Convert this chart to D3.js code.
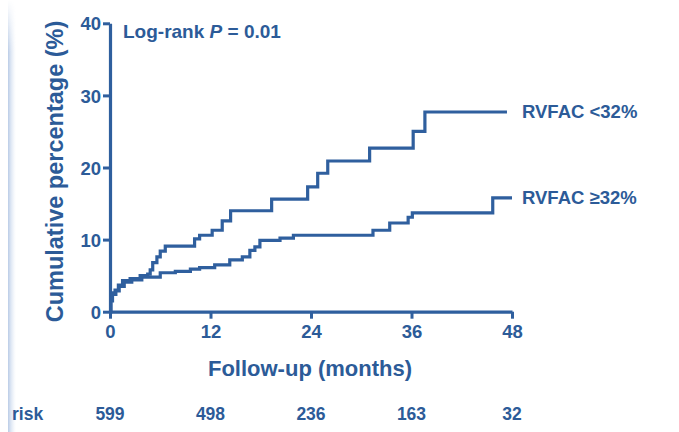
<!DOCTYPE html>
<html>
<head>
<meta charset="utf-8">
<script src="https://cdn.jsdelivr.net/npm/d3@7"></script>
<style>
  html, body { margin: 0; padding: 0; background: #ffffff; }
  svg { display: block; font-family: "Liberation Sans", Arial, sans-serif; font-weight: bold; }
</style>
</head>
<body>
<svg id="chart" width="679" height="432"></svg>
<script>
// Kaplan-Meier style cumulative incidence (%) by follow-up month
const lowFacMonths = [0, 0.1, 0.25, 0.6, 1.0, 1.5, 2.4, 3.6, 4.5, 4.8, 5.1, 5.6, 6.0, 6.6, 10.1, 10.7, 12.2, 13.4, 14.4, 19.3, 23.6, 24.8, 26.0, 31.0, 36.2, 37.6, 47.4];
const lowFacPct    = [0, 1.6, 2.6, 3.0, 3.7, 4.3, 4.6, 5.0, 5.2, 5.8, 6.8, 7.6, 8.4, 9.1, 10.1, 10.6, 11.3, 12.6, 14.0, 15.6, 17.3, 19.2, 20.9, 22.7, 25.0, 27.7, 27.7];

const highFacMonths = [0, 0.1, 0.3, 0.7, 1.1, 1.7, 2.6, 3.8, 6.0, 7.8, 9.6, 10.7, 12.5, 14.3, 15.8, 16.7, 17.3, 17.9, 20.3, 21.9, 31.4, 33.4, 35.6, 36.1, 45.7, 48.0];
const highFacPct    = [0, 1.5, 2.4, 2.9, 3.5, 4.1, 4.4, 4.8, 5.4, 5.6, 5.9, 6.1, 6.5, 7.2, 7.6, 8.5, 9.0, 9.9, 10.2, 10.6, 11.3, 12.3, 13.1, 13.7, 15.8, 15.8];

const seriesNames = ["RVFAC <32%", "RVFAC \u226532%"];
const xTicks = [0, 12, 24, 36, 48];
const yTicks = [0, 10, 20, 30, 40];
const atRisk = [599, 498, 236, 163, 32];
const riskLabel = "risk";

const ink = "#2f5f9e";
const textInk = "#2c5b98";

const svg = d3.select("#chart");

// soft page-edge bar on the left
const defs = svg.append("defs");
const grad = defs.append("linearGradient").attr("id", "edge").attr("x1", 0).attr("x2", 1);
grad.append("stop").attr("offset", 0).attr("stop-color", "#b9cbe6").attr("stop-opacity", 1);
grad.append("stop").attr("offset", 1).attr("stop-color", "#e4ecf7").attr("stop-opacity", 0);
const vgrad = defs.append("linearGradient").attr("id", "edgeFade").attr("x1", 0).attr("x2", 0).attr("y1", 0).attr("y2", 1);
vgrad.append("stop").attr("offset", 0).attr("stop-color", "#fff").attr("stop-opacity", 0);
vgrad.append("stop").attr("offset", 0.12).attr("stop-color", "#fff").attr("stop-opacity", 1);
vgrad.append("stop").attr("offset", 1).attr("stop-color", "#fff").attr("stop-opacity", 1);
const mask = defs.append("mask").attr("id", "edgeMask");
mask.append("rect").attr("x", 0).attr("y", 0).attr("width", 30).attr("height", 432).attr("fill", "url(#edgeFade)");
svg.append("rect").attr("x", 8).attr("y", 0).attr("width", 8).attr("height", 432)
  .attr("fill", "url(#edge)").attr("mask", "url(#edgeMask)");

const x = d3.scaleLinear().domain([0, 48]).range([110, 512]);
const y = d3.scaleLinear().domain([0, 40]).range([311.7, 23.3]);

// axes
const yAxis = svg.append("g").attr("transform", `translate(${x(0)},0)`)
  .call(d3.axisLeft(y).tickValues(yTicks).tickSize(7).tickSizeOuter(0).tickPadding(2));
const xAxis = svg.append("g").attr("transform", `translate(0,${y(0)})`)
  .call(d3.axisBottom(x).tickValues(xTicks).tickSize(7).tickSizeOuter(0).tickPadding(6));

[yAxis, xAxis].forEach(g => {
  g.select(".domain").attr("stroke", ink).attr("stroke-width", 3.2);
  g.selectAll(".tick line").attr("stroke", ink).attr("stroke-width", 3);
  g.selectAll(".tick text").attr("fill", textInk).attr("font-size", 18.5)
    .attr("font-family", "Liberation Sans, Arial, sans-serif").attr("font-weight", "bold");
});
yAxis.selectAll(".tick text").attr("dy", "0.36em");
xAxis.selectAll(".tick text").attr("dy", "0.74em");

// survival-type step curves
const step = d3.line().x(d => x(d[0])).y(d => y(d[1])).curve(d3.curveStepAfter);
const series = [
  { name: seriesNames[0], pts: d3.zip(lowFacMonths, lowFacPct) },
  { name: seriesNames[1], pts: d3.zip(highFacMonths, highFacPct) }
];
svg.selectAll("path.curve").data(series).join("path")
  .attr("class", "curve")
  .attr("d", d => step(d.pts))
  .attr("fill", "none")
  .attr("stroke", ink)
  .attr("stroke-width", 3.2)
  .attr("stroke-linejoin", "miter");

// series labels at the curve ends
svg.selectAll("text.series").data(series).join("text")
  .attr("class", "series")
  .attr("x", 522)
  .attr("y", d => y(d.pts[d.pts.length - 1][1]))
  .attr("dy", "0.34em")
  .attr("fill", textInk)
  .attr("font-size", 18.5)
  .text(d => d.name);

// test statistic
const lr = svg.append("text").attr("x", 123).attr("y", 38).attr("fill", textInk).attr("font-size", 19);
lr.append("tspan").text("Log-rank ");
lr.append("tspan").attr("font-style", "italic").text("P");
lr.append("tspan").text(" = 0.01");

// axis titles
svg.append("text")
  .attr("x", 310).attr("y", 376)
  .attr("text-anchor", "middle")
  .attr("fill", textInk).attr("font-size", 22)
  .text("Follow-up (months)");
svg.append("text")
  .attr("transform", `translate(63,${(y(0) + y(40)) / 2 + 4}) rotate(-90)`)
  .attr("text-anchor", "middle")
  .attr("fill", textInk).attr("font-size", 23.5)
  .text("Cumulative percentage (%)");

// number at risk row
svg.append("text").attr("x", 12).attr("y", 420)
  .attr("fill", textInk).attr("font-size", 17.5).text(riskLabel);
svg.selectAll("text.risk").data(atRisk).join("text")
  .attr("class", "risk")
  .attr("x", (d, i) => x(xTicks[i]))
  .attr("y", 420)
  .attr("text-anchor", "middle")
  .attr("fill", textInk).attr("font-size", 17.5)
  .text(d => d);
</script>
</body>
</html>
